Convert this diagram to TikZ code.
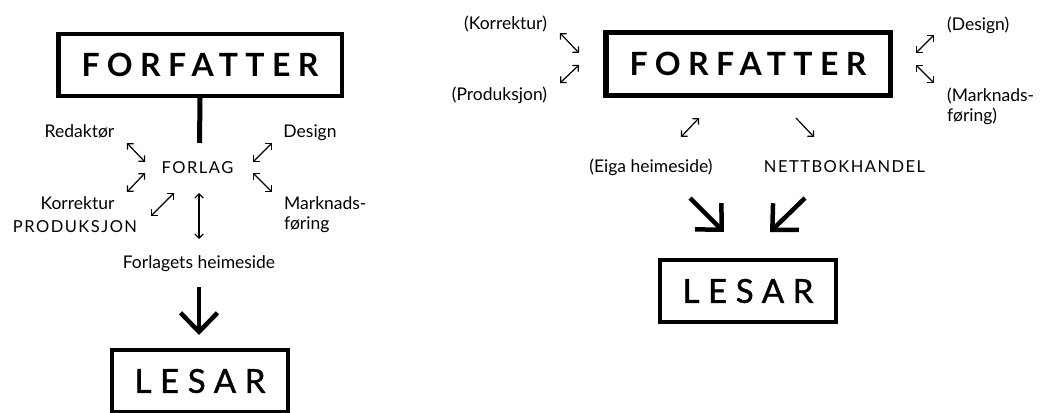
\documentclass[tikz,border=0pt]{standalone}
\usepackage{fontspec}
\setmainfont{Lato}
\usetikzlibrary{arrows.meta}
\tikzset{
  box/.style={draw, line width=#1, inner sep=0pt},
  bigtxt/.style={font=\fontsize{32}{32}\selectfont\bfseries\addfontfeature{LetterSpace=23}},
  lesartxt/.style={font=\fontsize{33}{33}\selectfont\addfontfeature{LetterSpace=26,FakeBold=1.2}},
  lbl/.style={font=\fontsize{17.5}{20}\selectfont, inner sep=0pt},
  caps/.style={font=\fontsize{16.5}{20}\selectfont\addfontfeature{LetterSpace=9}, inner sep=0pt},
  sarr/.style={line width=1.2pt, arrows={Straight Barb[length=4.2pt,width=8.4pt]-Straight Barb[length=4.2pt,width=8.4pt]}},
  sarrone/.style={line width=1.2pt, arrows={-Straight Barb[length=4.2pt,width=8.4pt]}},
  bigarr/.style={line width=4.5pt, arrows={-Straight Barb[length=19pt,width=37pt]}},
}
\begin{document}
\begin{tikzpicture}[x=1pt,y=-1pt]
\useasboundingbox (0,0) rectangle (1040,412);
% ---------- left diagram ----------
\node[box=4.5pt, minimum width=283.5pt, minimum height=61.5pt, bigtxt] (f1) at (200,65) {FORFATTER};
\node[lbl, anchor=base] (red) at (79.5,137.5) {Redaktør};
\node[lbl, anchor=base] (des1) at (310,137.5) {Design};
\node[caps, anchor=base] (forlag) at (197.5,173) {FORLAG};
\node[lbl, anchor=base] (kor1) at (77.5,209) {Korrektur};
\node[caps, anchor=base] (prod1) at (75,232.5) {PRODUKSJON};
\node[lbl, anchor=base west] (mark1a) at (284,209) {Marknads-};
\node[lbl, anchor=base west] (mark1b) at (284,229.3) {føring};
\node[lbl, anchor=base] (heim) at (199,268.7) {Forlagets heimeside};
\node[box=4pt, minimum width=176pt, minimum height=62pt, lesartxt] (l1) at (200,381) {LESAR};

\coordinate (fl) at (199.5,143);
\draw[line width=5pt] (f1.south) -- (fl);
\coordinate (ula) at (127,143); \coordinate (ulb) at (145,162);
\coordinate (lla) at (127,192); \coordinate (llb) at (145,173);
\coordinate (ura) at (253,162); \coordinate (urb) at (272,143);
\coordinate (lra) at (253,173); \coordinate (lrb) at (272,192);
\coordinate (pa) at (151,216); \coordinate (pb) at (174,193);
\coordinate (va) at (199,193); \coordinate (vb) at (199,239);
\draw[sarr] (ula) -- (ulb);
\draw[sarr] (lla) -- (llb);
\draw[sarr] (ura) -- (urb);
\draw[sarr] (lra) -- (lrb);
\draw[sarr] (pa) -- (pb);
\draw[sarr] (va) -- (vb);
\coordinate (ba) at (199,287); \coordinate (bb) at (199,335);
\draw[bigarr] (ba) -- (bb);

% ---------- right diagram ----------
\node[box=5.5pt, minimum width=284.5pt, minimum height=62.5pt, bigtxt] (f2) at (748,64) {FORFATTER};
\node[lbl, anchor=base] (kor2) at (505.5,30) {(Korrektur)};
\node[lbl, anchor=base] (prod2) at (499.5,100) {(Produksjon)};
\node[lbl, anchor=base west] (des2) at (947,30.7) {(Design)};
\node[lbl, anchor=base west] (mark2a) at (947,101.7) {(Marknads-};
\node[lbl, anchor=base west] (mark2b) at (947,121) {føring)};
\node[lbl, anchor=base] (eiga) at (651,172.7) {(Eiga heimeside)};
\node[caps, anchor=base] (nett) at (844.5,172.7) {NETTBOKHANDEL};
\node[box=4pt, minimum width=176pt, minimum height=62pt, lesartxt] (l2) at (748,291) {LESAR};

\coordinate (k2a) at (560,33); \coordinate (k2b) at (579,53);
\coordinate (p2a) at (560,83); \coordinate (p2b) at (579,65);
\coordinate (d2a) at (916,53); \coordinate (d2b) at (934,35);
\coordinate (m2a) at (916,65); \coordinate (m2b) at (934,83);
\coordinate (e2a) at (681,137); \coordinate (e2b) at (699,118);
\coordinate (n2a) at (796,118); \coordinate (n2b) at (814,137);
\draw[sarr] (k2a) -- (k2b);
\draw[sarr] (p2a) -- (p2b);
\draw[sarr] (d2a) -- (d2b);
\draw[sarr] (m2a) -- (m2b);
\draw[sarr] (e2a) -- (e2b);
\draw[sarrone] (n2a) -- (n2b);
\coordinate (g1a) at (690,198); \coordinate (g1b) at (724,232);
\coordinate (g2a) at (805,198); \coordinate (g2b) at (770,232);
\draw[bigarr] (g1a) -- (g1b);
\draw[bigarr] (g2a) -- (g2b);
\end{tikzpicture}
\end{document}
